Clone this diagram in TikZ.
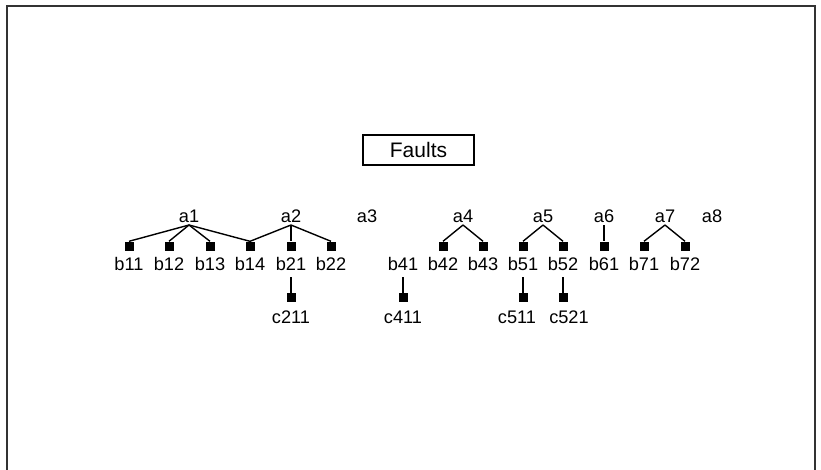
\documentclass[tikz,border=0pt]{standalone}
\usepackage{fontspec}
\setmainfont{Liberation Sans}
\begin{document}
\begin{tikzpicture}[x=1pt,y=-1pt,
  lab/.style={inner sep=0pt,anchor=base,font=\fontsize{18.2}{20}\selectfont},
  sq/.style={fill=black,inner sep=0pt,minimum size=9pt},
  link/.style={line width=1.4pt,black},
  frame/.style={draw=black!80,line width=1.8pt}]
\useasboundingbox (0,0) rectangle (821,469);
\clip (0,0) rectangle (821,469);
\draw[frame] (7,6) rectangle (815,480);
% title
\node[draw=black,line width=1.1pt,minimum width=111pt,minimum height=30pt,inner sep=0pt,
  font=\fontsize{21}{23}\selectfont] (title) at (418.5,150) {Faults};
% level a
\foreach \n/\x in {a1/189,a2/291,a3/367,a4/463,a5/543,a6/604,a7/665,a8/712}{
  \node[lab] (\n) at (\x,222) {\n};
  \coordinate (\n top) at (\x,225);
}
% level b
\foreach \n/\x in {b11/129,b12/169,b13/210,b14/250,b21/291,b22/331,b42/443,b43/483,b51/523,b52/563,b61/604,b71/644,b72/685}{
  \node[sq] (\n s) at (\x,246) {};
}
\foreach \n/\x in {b11/129,b12/169,b13/210,b14/250,b21/291,b22/331,b41/403,b42/443,b43/483,b51/523,b52/563,b61/604,b71/644,b72/685}{
  \node[lab] (\n) at (\x,270) {\n};
  \coordinate (\n bot) at (\x,277);
}
% level c
\foreach \n/\x/\lx in {c211/291/291,c411/403/403,c511/523/517,c521/563/569}{
  \node[sq] (\n s) at (\x,297.5) {};
  \node[lab] (\n) at (\lx,323) {\n};
}
% links a -> b
\foreach \p/\c in {a1/b11,a1/b12,a1/b13,a1/b14,a2/b14,a2/b21,a2/b22,a4/b42,a4/b43,a5/b51,a5/b52,a6/b61,a7/b71,a7/b72}{
  \draw[link] (\p top) -- (\c s.north);
}
% links b -> c
\foreach \p/\c in {b21/c211,b41/c411,b51/c511,b52/c521}{
  \draw[link] (\p bot) -- (\c s.north);
}
\end{tikzpicture}
\end{document}
